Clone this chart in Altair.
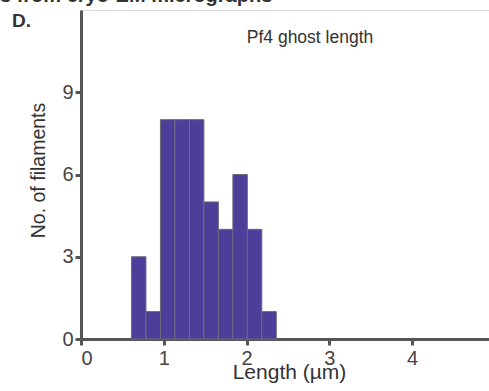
import altair as alt
import pandas as pd

bin_start = [0.61, 0.785, 0.96, 1.135, 1.31, 1.485, 1.66, 1.835, 2.01, 2.185]
bin_width = 0.175
counts = [3, 1, 8, 8, 8, 5, 4, 6, 4, 1]

df = pd.DataFrame({
    "start": bin_start,
    "end": [s + bin_width for s in bin_start],
    "count": counts,
})

W, H = 408, 329
PL, PT = 81, 10

x_scale = alt.Scale(domain=[0, 4.93], nice=False, zero=False)
y_scale = alt.Scale(domain=[0, 12], nice=False)

axis_common = dict(
    domainColor="#555555", domainWidth=3, tickColor="#555555", tickWidth=3, tickSize=6,
    labelColor="#444444", labelFont="Liberation Sans", labelFontSize=20, labelFontWeight="normal",
    titleColor="#333333", titleFont="Liberation Sans", titleFontWeight="normal",
    grid=False,
)

bars = alt.Chart(df).mark_bar(
    color="#4b3f9a", stroke="#6b6b7b", strokeWidth=1, opacity=1
).encode(
    x=alt.X("start:Q", scale=x_scale, axis=alt.Axis(
        values=[0, 1, 2, 3, 4], format="d", title="Length (µm)", labelPadding=3,
        titleX=208, titleY=39, titleBaseline="alphabetic", titleAnchor="start", titleAlign="center",
        titleFontSize=21, **axis_common)),
    x2="end:Q",
    y=alt.Y("count:Q", scale=y_scale, axis=alt.Axis(
        values=[0, 3, 6, 9], title="No. of filaments", labelPadding=2,
        titleX=-43, titleY=160, titleAngle=-90, titleBaseline="middle", titleAlign="center",
        titleFontSize=19.5, **axis_common)),
    y2=alt.datum(0),
)

ann = alt.Chart(pd.DataFrame({"t": ["Pf4 ghost length"]})).mark_text(
    font="Liberation Sans", fontSize=17.5, color="#333333", align="center", baseline="alphabetic"
).encode(x=alt.value(310 - PL), y=alt.value(43 - PT), text="t:N")

label_d = alt.Chart(pd.DataFrame({"t": ["D."]})).mark_text(
    font="Liberation Sans", fontSize=19, fontWeight="bold", color="#333333", align="left", baseline="alphabetic"
).encode(x=alt.value(12 - PL), y=alt.value(27 - PT), text="t:N")

top_title = alt.Chart(pd.DataFrame({"t": ["s from cryo-EM micrographs"]})).mark_text(
    font="Liberation Sans", fontSize=20, fontWeight="bold", color="#333333", align="left", baseline="alphabetic"
).encode(x=alt.value(0 - PL), y=alt.value(2 - PT), text="t:N")

chart = alt.layer(bars, ann, label_d, top_title).properties(
    width=W, height=H,
    padding={"left": PL, "top": PT, "right": 0, "bottom": 391 - PT - H},
    autosize=alt.AutoSizeParams(type="none"),
).configure_view(stroke=None).configure(background="white")

chart.save("out.html", embed_options={"renderer": "svg", "actions": False})
